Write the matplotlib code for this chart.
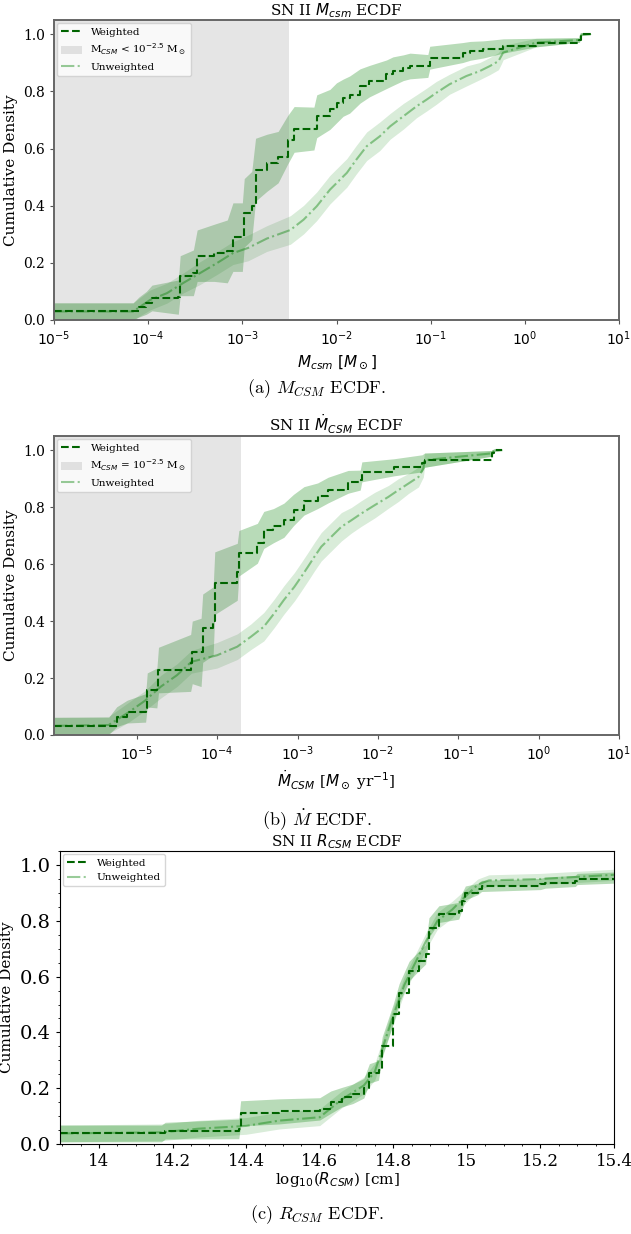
import numpy as np
import matplotlib
matplotlib.use("Agg")
import matplotlib.pyplot as plt
from matplotlib.patches import Patch
from matplotlib.lines import Line2D
from matplotlib.ticker import FuncFormatter, AutoMinorLocator, FixedLocator, NullLocator

plt.rcParams['font.family'] = ['DejaVu Serif', 'DejaVu Sans']
plt.rcParams['mathtext.fontset'] = 'dejavusans'

# ---- panel a: M_csm ECDF (x as log10 of M_csm) ----
mcsm_w_log = [-5.0, -4.16, -4.10, -4.02, -3.96, -3.68, -3.66, -3.52, -3.48, -3.30, -3.16, -3.10,
              -3.00, -2.98, -2.90, -2.86, -2.74, -2.62, -2.52, -2.45, -2.24, -2.21, -2.07, -2.00,
              -1.93, -1.86, -1.75, -1.65, -1.47, -1.40, -1.29, -1.22, -1.03, -1.01, -0.66, -0.58,
              -0.44, -0.23, 0.12, 0.58, 0.60, 0.71]
mcsm_w_cdf = [0.03, 0.03, 0.045, 0.06, 0.077, 0.08, 0.155, 0.165, 0.225, 0.235, 0.24, 0.29,
              0.29, 0.375, 0.40, 0.526, 0.55, 0.57, 0.63, 0.667, 0.67, 0.713, 0.737, 0.76,
              0.778, 0.789, 0.819, 0.836, 0.86, 0.871, 0.883, 0.889, 0.889, 0.918, 0.936, 0.942,
              0.947, 0.959, 0.971, 0.98, 1.0, 1.0]
mcsm_w_err = [0.03, 0.03, 0.035, 0.04, 0.045, 0.06, 0.07, 0.08, 0.09, 0.10, 0.11, 0.12,
              0.12, 0.12, 0.12, 0.11, 0.10, 0.09, 0.085, 0.08, 0.075, 0.075, 0.07, 0.07,
              0.065, 0.065, 0.06, 0.055, 0.05, 0.05, 0.045, 0.045, 0.04, 0.04, 0.035, 0.033,
              0.03, 0.025, 0.015, 0.008, 0.005, 0.0]

mcsm_u_log = [-5.0, -4.16, -3.98, -3.80, -3.63, -3.45, -3.27, -3.10, -2.94, -2.74, -2.49, -2.35,
              -2.21, -2.07, -1.89, -1.79, -1.68, -1.54, -1.43, -1.29, -1.15, -1.04, -0.94, -0.80,
              -0.62, -0.48, -0.37, -0.28, -0.25, -0.23, 0.12, 0.58, 0.60, 0.71]
mcsm_u_cdf = [0.03, 0.03, 0.07, 0.094, 0.129, 0.164, 0.199, 0.234, 0.252, 0.285, 0.315, 0.351,
              0.398, 0.456, 0.515, 0.561, 0.608, 0.643, 0.678, 0.713, 0.748, 0.772, 0.795, 0.825,
              0.854, 0.871, 0.889, 0.906, 0.924, 0.936, 0.971, 0.98, 1.0, 1.0]
mcsm_u_err = [0.03, 0.03, 0.035, 0.035, 0.035, 0.04, 0.04, 0.04, 0.045, 0.045, 0.05, 0.05,
              0.05, 0.05, 0.05, 0.05, 0.05, 0.05, 0.045, 0.045, 0.04, 0.04, 0.04, 0.035,
              0.035, 0.03, 0.03, 0.03, 0.028, 0.025, 0.015, 0.008, 0.005, 0.0]

# ---- panel b: Mdot ECDF (x as log10 of Mdot) ----
mdot_w_log = [-6.03, -5.35, -5.25, -5.12, -4.89, -4.87, -4.75, -4.73, -4.33, -4.31, -4.20, -4.18,
              -4.05, -4.03, -3.75, -3.73, -3.50, -3.42, -3.30, -3.17, -3.05, -2.92, -2.75, -2.62,
              -2.37, -2.22, -2.20, -1.80, -1.45, -1.42, -0.58, -0.56, -0.45]
mdot_w_cdf = [0.032, 0.032, 0.064, 0.082, 0.095, 0.158, 0.165, 0.228, 0.253, 0.29, 0.29, 0.375,
              0.40, 0.533, 0.573, 0.638, 0.673, 0.72, 0.735, 0.754, 0.79, 0.822, 0.84, 0.86,
              0.889, 0.895, 0.924, 0.94, 0.954, 0.965, 0.989, 1.0, 1.0]
mdot_w_err = [0.03, 0.03, 0.035, 0.04, 0.05, 0.06, 0.07, 0.08, 0.10, 0.11, 0.12, 0.12,
              0.12, 0.11, 0.10, 0.08, 0.07, 0.065, 0.06, 0.06, 0.055, 0.05, 0.045, 0.045,
              0.04, 0.035, 0.035, 0.03, 0.03, 0.025, 0.01, 0.005, 0.0]

mdot_u_log = [-6.03, -5.35, -5.10, -4.90, -4.70, -4.50, -4.32, -4.00, -3.75, -3.58, -3.42, -3.29,
              -3.17, -3.04, -2.955, -2.87, -2.79, -2.705, -2.58, -2.455, -2.33, -2.205, -2.04,
              -1.87, -1.745, -1.62, -1.495, -1.434, -1.42, -0.58, -0.56, -0.45]
mdot_u_cdf = [0.032, 0.035, 0.08, 0.12, 0.17, 0.21, 0.257, 0.28, 0.31, 0.345, 0.38, 0.427,
              0.474, 0.52, 0.555, 0.591, 0.626, 0.661, 0.696, 0.731, 0.754, 0.778, 0.807,
              0.836, 0.86, 0.883, 0.906, 0.936, 0.965, 0.989, 1.0, 1.0]
mdot_u_err = [0.03, 0.03, 0.035, 0.035, 0.04, 0.04, 0.04, 0.045, 0.045, 0.045, 0.05, 0.05,
              0.05, 0.05, 0.05, 0.05, 0.05, 0.05, 0.05, 0.05, 0.045, 0.045, 0.045,
              0.04, 0.04, 0.035, 0.035, 0.03, 0.025, 0.01, 0.005, 0.0]

# ---- panel c: R_csm ECDF ----
rcsm_w_x = [13.894, 14.17, 14.18, 14.38, 14.385, 14.49, 14.60, 14.63, 14.66, 14.69, 14.72, 14.735,
            14.76, 14.77, 14.80, 14.816, 14.843, 14.87, 14.888, 14.897, 14.924, 14.978, 14.987,
            14.996, 15.03, 15.04, 15.20, 15.213, 15.295, 15.30, 15.40]
rcsm_w_cdf = [0.038, 0.038, 0.048, 0.054, 0.11, 0.117, 0.126, 0.15, 0.168, 0.18, 0.20, 0.253,
              0.264, 0.35, 0.467, 0.54, 0.62, 0.657, 0.68, 0.776, 0.824, 0.836, 0.871,
              0.90, 0.914, 0.925, 0.932, 0.937, 0.943, 0.95, 0.955]
rcsm_w_err = [0.03, 0.03, 0.03, 0.035, 0.045, 0.045, 0.04, 0.04, 0.035, 0.035, 0.035, 0.035,
              0.035, 0.035, 0.035, 0.035, 0.035, 0.035, 0.035, 0.035, 0.03, 0.03, 0.03,
              0.025, 0.02, 0.02, 0.02, 0.02, 0.02, 0.02, 0.02]

rcsm_u_x = [13.894, 14.17, 14.27, 14.40, 14.49, 14.60, 14.66, 14.72, 14.75, 14.78, 14.80, 14.83,
            14.86, 14.89, 14.92, 14.96, 14.99, 15.03, 15.06, 15.20, 15.40]
rcsm_u_cdf = [0.038, 0.042, 0.055, 0.065, 0.084, 0.096, 0.16, 0.21, 0.26, 0.38, 0.46, 0.57,
              0.65, 0.73, 0.80, 0.84, 0.88, 0.93, 0.945, 0.95, 0.965]
rcsm_u_err = [0.03, 0.03, 0.03, 0.03, 0.03, 0.03, 0.03, 0.03, 0.03, 0.03, 0.03, 0.03,
              0.03, 0.03, 0.03, 0.03, 0.025, 0.02, 0.02, 0.02, 0.02]

W_COLOR = 'darkgreen'
U_COLOR = 'green'


def draw_pair(ax, xw, yw, ew, xu, yu, eu):
    xw, yw, ew = np.asarray(xw), np.asarray(yw), np.asarray(ew)
    xu, yu, eu = np.asarray(xu), np.asarray(yu), np.asarray(eu)
    ax.fill_between(xu, yu - eu, yu + eu, color=U_COLOR, alpha=0.15, lw=0)
    ax.fill_between(xw, yw - ew, yw + ew, color=U_COLOR, alpha=0.28, lw=0)
    ax.plot(xu, yu, color=U_COLOR, alpha=0.4, ls='-.', lw=1.5)
    ax.step(xw, yw, where='post', color=W_COLOR, ls='--', lw=1.5)


def pow_fmt(v, pos):
    return r'$10^{%d}$' % int(round(np.log10(v)))


w_handle = Line2D([], [], color=W_COLOR, ls='--', lw=1.5, label='Weighted')
u_handle = Line2D([], [], color=U_COLOR, alpha=0.4, ls='-.', lw=1.5, label='Unweighted')

fig = plt.figure(figsize=(6.31, 12.34), dpi=100)

ax_a = fig.add_axes([0.0856, 0.7407, 0.8954, 0.2431])
ax_b = fig.add_axes([0.0856, 0.4044, 0.8954, 0.2423])
ax_c = fig.add_axes([0.0951, 0.0729, 0.8779, 0.2374])

# panel a
draw_pair(ax_a, np.power(10.0, mcsm_w_log), mcsm_w_cdf, mcsm_w_err,
          np.power(10.0, mcsm_u_log), mcsm_u_cdf, mcsm_u_err)
ax_a.set_xscale('log')
ax_a.set_xlim(1e-5, 1e1)
ax_a.axvspan(1e-5, 10 ** -2.5, color='gray', alpha=0.2, lw=0)
g_a = Patch(facecolor='gray', alpha=0.2, label=r'M$_{CSM}$ < 10$^{-2.5}$ M$_\odot$')
ax_a.legend(handles=[w_handle, g_a, u_handle], loc='upper left', fontsize=7.5,
            framealpha=0.8, borderaxespad=0.3)
ax_a.set_title(r'SN II $M_{csm}$ ECDF', fontsize=11, pad=2)
ax_a.set_xlabel(r'$M_{csm}\ [M_\odot]$', fontsize=11)
ax_a.xaxis.set_major_locator(FixedLocator([10.0 ** k for k in range(-5, 2)]))

# panel b
draw_pair(ax_b, np.power(10.0, mdot_w_log), mdot_w_cdf, mdot_w_err,
          np.power(10.0, mdot_u_log), mdot_u_cdf, mdot_u_err)
ax_b.set_xscale('log')
ax_b.set_xlim(10 ** -6.03, 1e1)
ax_b.axvspan(10 ** -6.03, 10 ** -3.70, color='gray', alpha=0.2, lw=0)
g_b = Patch(facecolor='gray', alpha=0.2, label=r'M$_{CSM}$ = 10$^{-2.5}$ M$_\odot$')
ax_b.legend(handles=[w_handle, g_b, u_handle], loc='upper left', fontsize=7.5,
            framealpha=0.8, borderaxespad=0.3)
ax_b.set_title(r'SN II $\dot{M}_{CSM}$ ECDF', fontsize=11, pad=2)
ax_b.set_xlabel(r'$\dot{M}_{CSM}$ [$M_\odot$ yr$^{-1}$]', fontsize=11)
ax_b.xaxis.set_major_locator(FixedLocator([10.0 ** k for k in range(-5, 2)]))

for ax in (ax_a, ax_b):
    ax.set_ylim(0, 1.05)
    ax.set_yticks([0.0, 0.2, 0.4, 0.6, 0.8, 1.0])
    ax.xaxis.set_major_formatter(FuncFormatter(pow_fmt))
    ax.xaxis.set_minor_locator(NullLocator())
    ax.tick_params(labelsize=10, length=3, color='#555555')
    ax.set_ylabel('Cumulative Density', fontsize=11)
    for s in ax.spines.values():
        s.set_color('#666666')
        s.set_linewidth(1.4)

# panel c
draw_pair(ax_c, rcsm_w_x, rcsm_w_cdf, rcsm_w_err, rcsm_u_x, rcsm_u_cdf, rcsm_u_err)
ax_c.set_xlim(13.894, 15.4)
ax_c.set_ylim(0, 1.05)
ax_c.set_xticks([14.0, 14.2, 14.4, 14.6, 14.8, 15.0, 15.2, 15.4])
ax_c.set_yticks([0.0, 0.2, 0.4, 0.6, 0.8, 1.0])
ax_c.xaxis.set_major_formatter(FuncFormatter(lambda v, p: '%g' % round(v, 2)))
ax_c.xaxis.set_minor_locator(AutoMinorLocator(4))
ax_c.yaxis.set_minor_locator(AutoMinorLocator(4))
ax_c.tick_params(axis='y', labelsize=14, length=3)
ax_c.tick_params(axis='x', labelsize=12, length=3)
ax_c.tick_params(which='minor', length=1.5)
ax_c.legend(handles=[w_handle, u_handle], loc='upper left', fontsize=7.5,
            framealpha=0.8, borderaxespad=0.3)
ax_c.set_title(r'SN II $R_{CSM}$ ECDF', fontsize=11, pad=2)
ax_c.set_xlabel(r'log$_{10}$($R_{CSM}$) [cm]', fontsize=11, labelpad=0)
ax_c.set_ylabel('Cumulative Density', fontsize=11)

# captions
cap = dict(ha='center', va='center', fontsize=13, family='cmr10', math_fontfamily='cm')
fig.text(0.502, 0.6848, r'(a) $M_{CSM}$ ECDF.', **cap)
fig.text(0.502, 0.3355, r'(b) $\dot{M}$ ECDF.', **cap)
fig.text(0.502, 0.0154, r'(c) $R_{CSM}$ ECDF.', **cap)

fig.savefig('out.png', dpi=100)
